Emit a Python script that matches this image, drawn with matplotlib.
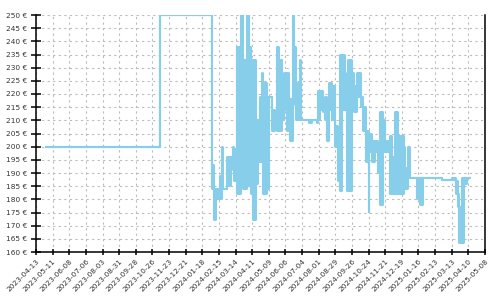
"""Price history chart: step band of observed prices per period."""

import matplotlib

matplotlib.use("Agg")
import matplotlib.dates as mdates
import matplotlib.pyplot as plt
import numpy as np
import pandas as pd

# period start dates with the lowest / highest price seen in that period
dates = [
    "2023-04-28", "2023-11-08", "2024-02-04", "2024-02-06", "2024-02-10",
    "2024-02-16", "2024-02-20", "2024-02-22", "2024-02-28", "2024-03-06",
    "2024-03-09", "2024-03-12", "2024-03-17", "2024-03-23", "2024-03-27",
    "2024-04-02", "2024-04-06", "2024-04-09", "2024-04-13", "2024-04-17",
    "2024-04-21", "2024-04-24", "2024-04-27", "2024-04-30", "2024-05-06",
    "2024-05-09", "2024-05-15", "2024-05-19", "2024-05-22", "2024-05-26",
    "2024-05-31", "2024-06-04", "2024-06-08", "2024-06-12", "2024-06-14",
    "2024-06-18", "2024-06-21", "2024-06-24", "2024-06-28", "2024-07-01",
    "2024-07-03", "2024-07-15", "2024-07-20", "2024-07-29", "2024-07-31",
    "2024-08-03", "2024-08-09", "2024-08-12", "2024-08-15", "2024-08-19",
    "2024-08-23", "2024-08-29", "2024-09-03", "2024-09-06", "2024-09-10",
    "2024-09-14", "2024-09-17", "2024-09-20", "2024-09-26", "2024-09-30",
    "2024-10-04", "2024-10-12", "2024-10-15", "2024-10-20", "2024-10-24",
    "2024-10-25", "2024-10-29", "2024-11-04", "2024-11-09", "2024-11-12",
    "2024-11-17", "2024-11-21", "2024-11-29", "2024-12-02", "2024-12-08",
    "2024-12-12", "2024-12-18", "2024-12-22", "2024-12-24", "2024-12-29",
    "2025-01-02", "2025-01-13", "2025-01-19", "2025-01-23", "2025-02-24",
    "2025-03-13", "2025-03-20", "2025-03-23", "2025-03-25", "2025-03-30",
    "2025-04-02", "2025-04-07", "2025-04-15",
]
price_low = [
    200, 250, 184, 172, 180,
    180, 184, 184, 185, 196,
    191, 187, 182, 186, 184,
    186, 185, 182, 172, 186,
    194, 194, 214, 182, 184,
    219, 206, 210, 206, 206,
    210, 214, 206, 206, 202,
    216, 223, 210, 210, 210,
    210, 209, 210, 209, 210,
    214, 213, 210, 202, 214,
    210, 200, 187, 183, 214,
    214, 183, 183, 223, 213,
    219, 215, 206, 194, 175,
    198, 194, 198, 190, 178,
    198, 198, 182, 182, 182,
    182, 182, 186, 184, 188,
    188, 180, 178, 188, 187.5,
    187.5, 182, 177, 163.3, 163.3,
    186, 188, 188,
]
price_high = [
    200, 250, 193, 184, 184,
    189, 200, 184, 196, 196,
    200, 199, 238, 250, 233,
    250, 238, 233, 233, 210,
    210, 219, 228, 224, 219,
    219, 214, 210, 238, 233,
    210, 228, 228, 210, 218,
    250, 238, 224, 210, 233,
    210, 210, 210, 210, 221,
    221, 218, 219, 214, 224,
    223, 208, 200, 235, 235,
    219, 228, 233, 228, 223,
    228, 219, 215, 206, 205,
    205, 202, 202, 198, 213,
    210, 202, 204, 196, 213,
    204, 204, 200, 192, 200,
    188, 188, 188, 188, 187.5,
    188, 187, 182, 177, 188,
    188, 188, 188,
]

x_start = "2023-04-13"
x_end = "2025-05-08"
y_ticks = list(range(160, 251, 5))


def main() -> None:
    t = pd.to_datetime(dates)
    lo = np.asarray(price_low, dtype=float)
    hi = np.asarray(price_high, dtype=float)

    fig = plt.figure(figsize=(5, 3), dpi=100)
    ax = fig.add_axes([0.072, 0.16, 0.898, 0.79])

    ax.fill_between(
        t, lo, hi, step="post",
        facecolor="#87ceeb", edgecolor="#87ceeb",
        linewidth=1.5, joinstyle="bevel", zorder=3,
    )

    ax.set_xlim(pd.Timestamp(x_start), pd.Timestamp(x_end))
    ax.set_ylim(160, 250)

    ticks = pd.date_range(x_start, x_end, freq="28D")
    ax.set_xticks(ticks)
    ax.xaxis.set_major_formatter(mdates.DateFormatter("%Y-%m-%d"))
    ax.set_yticks(y_ticks)
    ax.set_yticklabels([f"{v} €" for v in y_ticks])

    for lab in ax.get_xticklabels():
        lab.set_rotation(45)
        lab.set_ha("right")
        lab.set_rotation_mode("anchor")

    ax.tick_params(axis="both", labelsize=5.3, labelcolor="#333333",
                   width=1.1, color="black")
    ax.tick_params(axis="y", direction="inout", length=7, pad=3)
    ax.tick_params(axis="x", direction="inout", length=5, pad=2)

    ax.grid(True, color="#bbbbbb", linestyle=(0, (2, 3)), linewidth=0.8)
    ax.set_axisbelow(True)

    ax.spines["top"].set_visible(False)
    for side in ("left", "bottom", "right"):
        ax.spines[side].set_linewidth(1.1)
        ax.spines[side].set_color("black")

    fig.savefig("out.png", dpi=100)
    plt.close(fig)


if __name__ == "__main__":
    main()
